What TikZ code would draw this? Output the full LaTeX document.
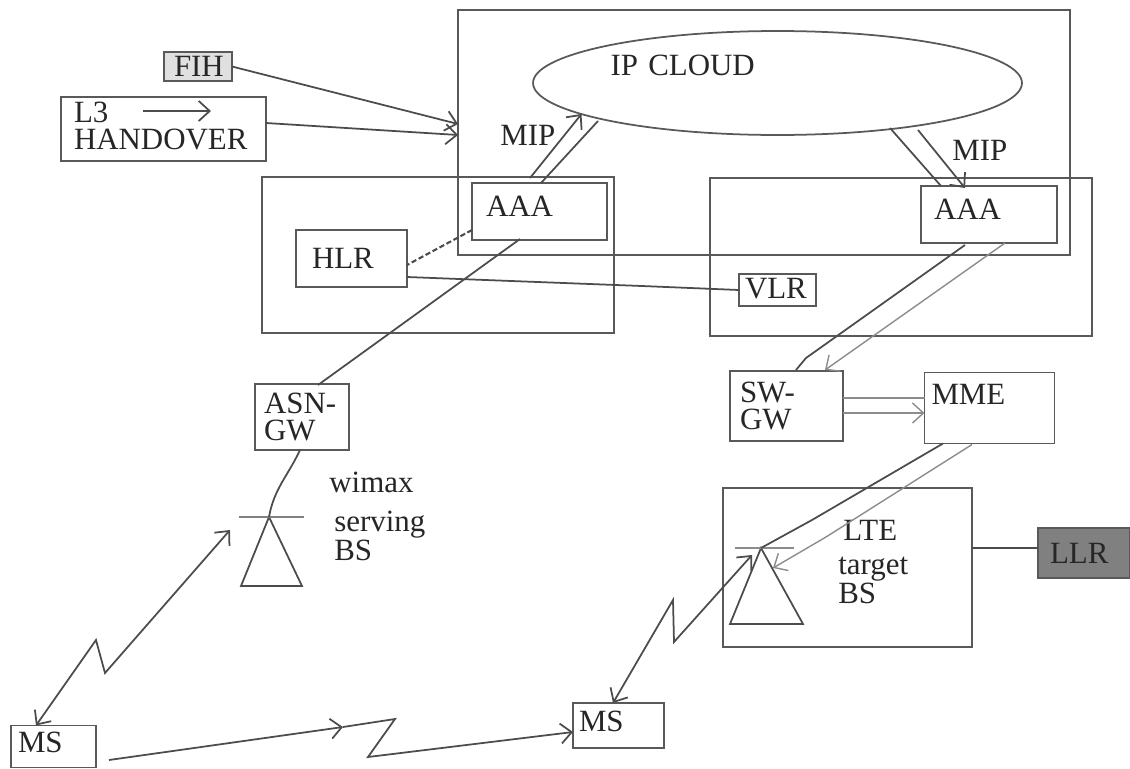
\documentclass[tikz,border=0pt]{standalone}
\usepackage{fontspec}
\setmainfont{Liberation Serif}
\usepackage{xcolor}
\usepackage{tikz}
\usetikzlibrary{arrows.meta,positioning,shapes.geometric,calc}

\begin{document}
\begin{tikzpicture}[
        x=0.02cm, y=-0.02cm,
        every node/.style={font=\fontsize{17.6}{15}\selectfont, text=black!85},
        box/.style n args={3}{draw=black!65, line width=1pt, align=left, outer sep=0pt, inner ysep=0pt,
                              minimum width=#1*0.02cm, minimum height=#2*0.02cm,
                              inner xsep=#3*0.02cm, text width={(#1-2*#3)*0.02cm}},
        zone/.style={draw=black!65, line width=1pt, outer sep=0pt, inner sep=0pt},
        lbl/.style={anchor=west, align=left, inner sep=0pt},
        line/.style={draw=black!70, line width=1pt},
        faint/.style={draw=black!45, line width=0.8pt},
        arrow/.style={-{Straight Barb[length=2.2mm,width=4mm]}},
        both/.style={{Straight Barb[length=2.2mm,width=4mm]}-{Straight Barb[length=2.2mm,width=4mm]}}
    ]
        \useasboundingbox (0,0) rectangle (1130,768);

        \node[zone, minimum width=12.24cm, minimum height=4.9cm] (ipzone) at (764,132.5) {};
        \node[zone, minimum width=7.04cm, minimum height=3.12cm] (homezone) at (438,255) {};
        \node[zone, minimum width=7.64cm, minimum height=3.16cm] (visitzone) at (901,257) {};
        \node[zone, minimum width=4.98cm, minimum height=3.18cm] (ltezone) at (847.5,567.5) {};

        \node[zone, ellipse, minimum width=9.78cm, minimum height=2.08cm, align=left,
              text width=6.68cm, text depth=20pt] (cloud) at (777.5,83) {IP CLOUD};

        \node[box={68}{29}{10}, fill=black!12] (fih) at (198,66.5) {FIH};
        \node[box={205}{64}{13}, text depth=18.5pt] (l3) at (163.5,129) {L3\\HANDOVER};
        \node[box={135}{57}{14}, text depth=5.7pt] (aaal) at (539.5,211.5) {AAA};
        \node[box={136}{57}{13}, text depth=6pt] (aaar) at (989,214.5) {AAA};
        \node[box={111}{57}{16}] (hlr) at (351.5,258.5) {HLR};
        \node[box={77}{32}{6}, text depth=2pt] (vlr) at (777.5,290) {VLR};
        \node[box={113}{70}{10}] (swgw) at (786.5,406) {SW-\\GW};
        \node[box={130}{71}{7}, text depth=15pt] (mme) at (989.5,408) {MME};
        \node[box={94}{66}{9}] (asngw) at (302,417) {ASN-\\GW};
        \node[box={92}{50}{12}, fill=black!50] (llr) at (1084,553) {LLR};
        \node[box={85}{42}{7}, text depth=4.6pt] (msl) at (53.5,746.5) {MS};
        \node[box={91}{45}{6}, text depth=5pt] (msr) at (618.5,725.5) {MS};

        \node[lbl] (mipl) at (500,135) {MIP};
        \node[lbl] (mipr) at (952,150) {MIP};
        \node[lbl] (wimax) at (329,482) {wimax};
        \node[lbl] (servbs) at (334,536) {serving\\BS};
        \node[lbl] (lte) at (843,530) {LTE};
        \node[lbl] (targbs) at (838,580) {target\\BS};

        \coordinate (wapex) at (269,517);
        \coordinate (lapex) at (761,548);
        \draw[line] (wapex) -- (241,586) -- (302,586) -- cycle;
        \draw[line] (lapex) -- (730,624) -- (803,624) -- cycle;
        \draw[draw=black!50, line width=1.4pt] (239,517) -- (304,517);
        \draw[faint] (735,548) -- (794,548);

        \draw[line, arrow] ($(l3.center)+(-20.5,-18)$) -- ($(l3.center)+(47.5,-18)$);
        \draw[line, arrow] (fih.east) -- ($(ipzone.west)+(0,-8.5)$);
        \draw[line, arrow] ($(l3.east)+(0,-6)$) -- ($(ipzone.west)+(0,2.5)$);

        \draw[line, arrow] ($(aaal.north)+(-9.5,-5)$) -- ($(cloud.south)+(-196,-21)$);
        \draw[line] ($(aaal.north)+(1.5,0)$) -- ($(cloud.south)+(-179.5,-14)$);
        \draw[line] ($(cloud.south)+(112.5,-7)$) -- ($(aaar.north)+(-48,0)$);
        \draw[line, arrow] ($(cloud.south)+(140.5,-5)$) -- ($(aaar.north)+(-24,2)$);

        \draw[line, line width=1.2pt, dash pattern=on 3pt off 1.5pt] ($(aaal.west)+(0,18.5)$) -- ($(hlr.east)+(0,6.5)$);
        \draw[line] ($(hlr.east)+(0,18.5)$) -- (642,286) -- (vlr.west);
        \draw[line] ($(aaal.south)+(-19.5,-1)$) -- ($(asngw.north)+(16,1)$);
        \draw[line] ($(asngw.south)+(-2,0)$) to[out=-115,in=80] (wapex);

        \draw[line] ($(aaar.south)+(-24,2)$) -- (806,358) -- ($(swgw.north)+(9.5,-1)$);
        \draw[faint, arrow] ($(aaar.south)+(16,0)$) -- ($(swgw.north)+(38.5,-1)$);
        \draw[faint] ($(swgw.east)+(0,-8)$) -- ($(mme.west)+(0,-10)$);
        \draw[faint, arrow] ($(swgw.east)+(0,7)$) -- ($(mme.west)+(0,5)$);

        \draw[line] ($(mme.south)+(-46.5,0)$) -- (812,520) -- (lapex);
        \draw[faint, arrow] ($(mme.south)+(-17.5,1)$) -- (826,537) -- (773,568);
        \draw[line] ($(ltezone.east)+(0,-19.5)$) -- ($(llr.west)+(0,-5)$);

        \draw[line, both] (230,530) -- (105,673) -- (96,640) -- ($(msl.north)+(-17.5,0)$);
        \draw[line, both] (752,555) -- (674,642) -- (673,600) -- ($(msr.north)+(-5.5,0)$);
        \coordinate (hopend) at (343,727);
        \draw[line, arrow] ($(msl.east)+(13,13.5)$) -- (hopend);
        \draw[line, arrow] (hopend) -- (395,719) -- (368,757) -- ($(msr.west)+(0,6.5)$);
    \end{tikzpicture}
\end{document}
